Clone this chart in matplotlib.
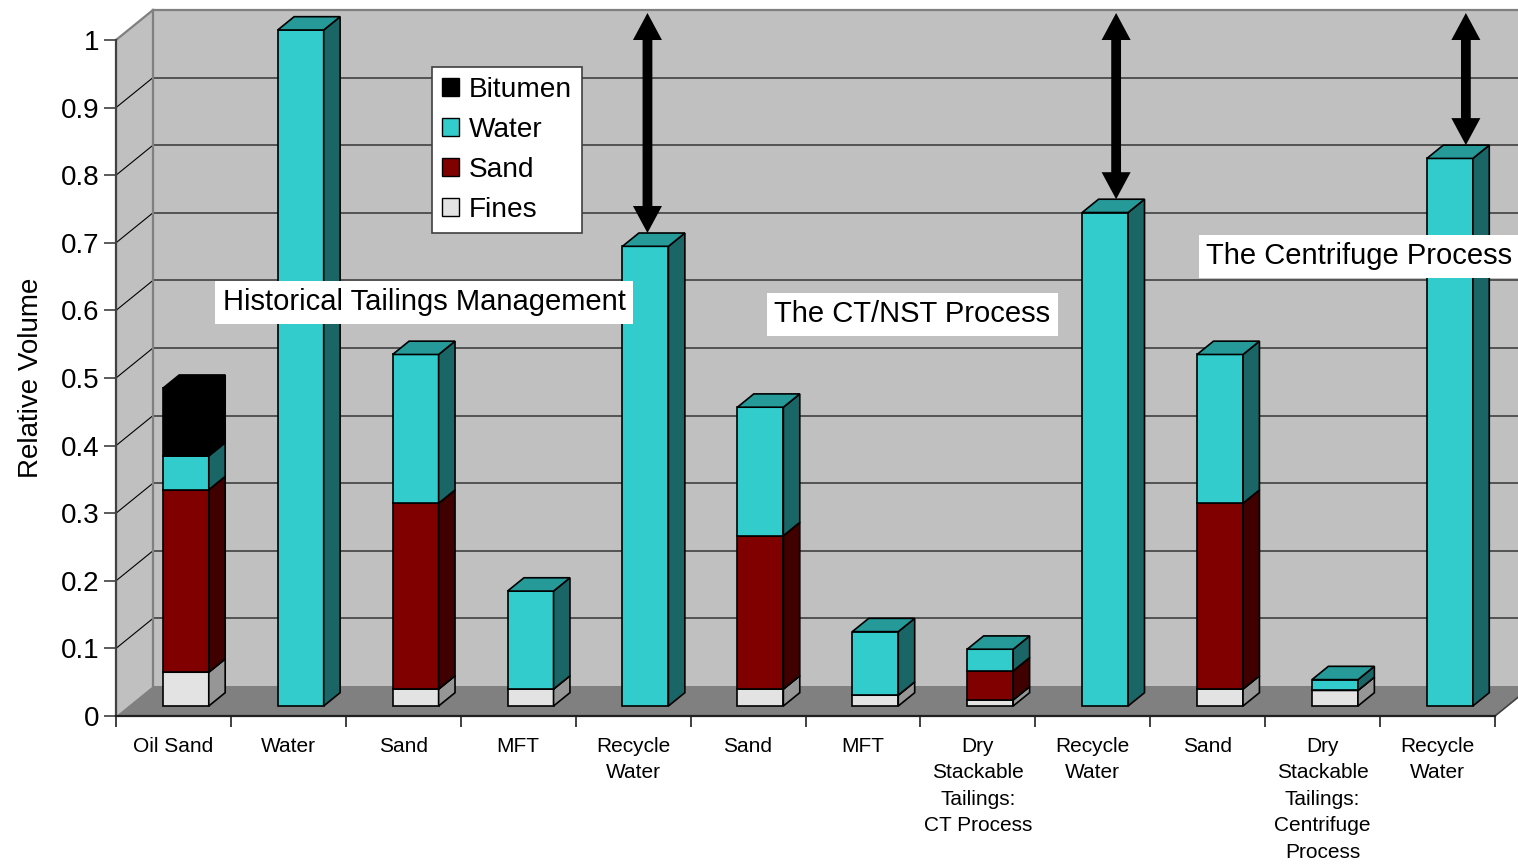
import matplotlib
matplotlib.use("Agg")
import matplotlib.pyplot as plt
from matplotlib.patches import Polygon, Patch
from matplotlib.lines import Line2D

plt.rcParams['font.family'] = ['Liberation Sans', 'DejaVu Sans']

# ---- data -------------------------------------------------------------
categories = ["Oil Sand", "Water", "Sand", "MFT", "Recycle\nWater", "Sand", "MFT",
              "Dry\nStackable\nTailings:\nCT Process", "Recycle\nWater", "Sand",
              "Dry\nStackable\nTailings:\nCentrifuge\nProcess", "Recycle\nWater"]
fines   = [0.05, 0.0, 0.025, 0.025, 0.0, 0.025, 0.016, 0.009, 0.0, 0.025, 0.023, 0.0]
sand    = [0.27, 0.0, 0.275, 0.0,   0.0, 0.227, 0.0,   0.043, 0.0, 0.275, 0.0,   0.0]
water   = [0.05, 1.0, 0.22,  0.145, 0.68, 0.19, 0.094, 0.032, 0.73, 0.22, 0.016, 0.81]
bitumen = [0.10, 0.0, 0.0,   0.0,   0.0, 0.0,   0.0,   0.0,   0.0, 0.0,   0.0,   0.0]
yticks = [0, 0.1, 0.2, 0.3, 0.4, 0.5, 0.6, 0.7, 0.8, 0.9, 1]
ytick_labels = ["0", "0.1", "0.2", "0.3", "0.4", "0.5", "0.6", "0.7", "0.8", "0.9", "1"]
arrow_bars = [4, 8, 11]          # bars whose gap up to 1.0 is marked
group_titles = ["Historical Tailings Management", "The CT/NST Process", "The Centrifuge Process"]

# ---- styling ----------------------------------------------------------
components = [  # name, values, front, top, side
    ("Fines",   fines,   "#E3E3E3", "#AAAAAA", "#969696"),
    ("Sand",    sand,    "#800000", "#600000", "#400000"),
    ("Water",   water,   "#33CCCC", "#269999", "#1A6666"),
    ("Bitumen", bitumen, "#000000", "#000000", "#000000"),
]

W_PX, H_PX = 1518, 864
X0_PX, X1_PX, Y0_PX, Y1_PX = 116, 1495, 716, 40
n = len(categories)
CAT_PX = (X1_PX - X0_PX) / n
VAL_PX = (Y0_PX - Y1_PX)
DX = 37 / CAT_PX        # full floor depth in data units
DY = 30 / VAL_PX
F0, F1 = 1 / 3, 0.777   # bar front / back depth fraction
BAR_W = 0.40

fig = plt.figure(figsize=(W_PX / 100, H_PX / 100), dpi=100)
ax = fig.add_axes([X0_PX / W_PX, (H_PX - Y0_PX) / H_PX,
                   (X1_PX - X0_PX) / W_PX, VAL_PX / H_PX])
ax.set_xlim(0, n)
ax.set_ylim(0, 1)
ax.patch.set_visible(False)


def poly(pts, fc, ec="none", lw=0.0, z=1):
    ax.add_patch(Polygon(pts, closed=True, facecolor=fc, edgecolor=ec,
                         linewidth=lw, zorder=z, clip_on=False, joinstyle="miter"))


def line(xs, ys, color, lw, z=1.2):
    ax.add_line(Line2D(xs, ys, color=color, linewidth=lw, zorder=z, clip_on=False))


# walls and floor
poly([(DX, DY), (DX, 1 + DY), (n + DX + 1, 1 + DY), (n + DX + 1, DY)], "#C0C0C0", z=0.5)
poly([(0, 0), (0, 1), (DX, 1 + DY), (DX, DY)], "#C0C0C0", z=0.5)
poly([(0, 0), (n, 0), (n + DX, DY), (DX, DY)], "#808080", z=0.6)
for v in yticks[1:-1]:
    line([DX, n + DX], [v + DY, v + DY], "#4A4A4A", 1.3)
    line([0, DX], [v, v + DY], "#000000", 0.8)
line([DX, n + DX], [1 + DY, 1 + DY], "#808080", 1.6)
line([0, DX], [1, 1 + DY], "#808080", 1.6)
line([DX, DX], [DY, 1 + DY], "#808080", 1.6)
line([n, n + DX], [0, DY], "#404040", 1.2)

# stacked 3-D bars
sdx, sdy = (F1 - F0) * DX, (F1 - F0) * DY
for i in range(n):
    xl = i + 0.5 - BAR_W / 2 + F0 * DX
    xr = xl + BAR_W
    base = 0.0
    for name, vals, cf, ct, cs in components:
        h = vals[i]
        if h <= 0:
            continue
        y0, y1 = base + F0 * DY, base + h + F0 * DY
        poly([(xl, y0), (xr, y0), (xr, y1), (xl, y1)], cf, "black", 1.2, z=3)
        poly([(xr, y0), (xr + sdx, y0 + sdy), (xr + sdx, y1 + sdy), (xr, y1)], cs, "black", 1.2, z=3)
        poly([(xl, y1), (xr, y1), (xr + sdx, y1 + sdy), (xl + sdx, y1 + sdy)], ct, "black", 1.2, z=3)
        base += h

# double-headed arrows from each recycle-water bar up to 1.0
arrow_shift_px = [2, 11, 16]
shaft = 4.9 / CAT_PX
head_w = 14.5 / CAT_PX
head_l = 27 / VAL_PX
for k, i in enumerate(arrow_bars):
    total = fines[i] + sand[i] + water[i] + bitumen[i]
    xc = i + 0.5 + F0 * DX + arrow_shift_px[k] / CAT_PX
    yb = total + F1 * DY
    yt = 1.0 + 0.9 * DY
    pts = [(xc, yt), (xc + head_w, yt - head_l), (xc + shaft, yt - head_l),
           (xc + shaft, yb + head_l), (xc + head_w, yb + head_l), (xc, yb),
           (xc - head_w, yb + head_l), (xc - shaft, yb + head_l),
           (xc - shaft, yt - head_l), (xc - head_w, yt - head_l)]
    poly(pts, "black", z=5)

# group titles
title_pos = [(2.68, 0.612), (6.93, 0.594), (10.82, 0.680)]
for t, (tx, ty) in zip(group_titles, title_pos):
    ax.text(tx, ty, t, fontsize=21, ha="center", va="center", zorder=6,
            bbox=dict(boxstyle="square,pad=0.25", facecolor="white", edgecolor="none"))

# axes, ticks and labels
for s in ("top", "right"):
    ax.spines[s].set_visible(False)
ax.spines["left"].set_color("#404040")
ax.spines["left"].set_linewidth(1.6)
ax.spines["bottom"].set_color("#202020")
ax.spines["bottom"].set_linewidth(1.6)
ax.spines["left"].set_zorder(4)
ax.spines["bottom"].set_zorder(4)

ax.set_yticks(yticks)
ax.set_yticklabels(ytick_labels, fontsize=20)
ax.tick_params(axis="y", direction="out", length=8.5, width=1.2, color="#404040", pad=3.5)

ax.set_xticks(range(n + 1))
ax.set_xticklabels([""] * (n + 1))
ax.set_xticks([i + 0.5 for i in range(n)], minor=True)
ax.set_xticklabels(categories, minor=True, fontsize=15, linespacing=1.5)
ax.tick_params(axis="x", which="major", direction="out", length=8, width=1.2, color="#202020")
ax.tick_params(axis="x", which="minor", length=0, pad=15)

ax.set_ylabel("Relative Volume", fontsize=20, labelpad=12)

handles = [Patch(facecolor=c[2], edgecolor="black", linewidth=1.0) for c in components[::-1]]
labels = [c[0] for c in components[::-1]]
leg = ax.legend(handles, labels, loc="upper left",
                bbox_to_anchor=(432 / W_PX, 1 - 67 / H_PX), bbox_transform=fig.transFigure,
                fontsize=20.2, frameon=True, fancybox=False, framealpha=1, edgecolor="#404040",
                borderaxespad=0, handlelength=0.62, handleheight=0.62, handletextpad=0.35,
                labelspacing=0.5, borderpad=0.35)
leg.get_frame().set_linewidth(1.2)
leg.set_zorder(7)

fig.savefig("out.png", dpi=100)
